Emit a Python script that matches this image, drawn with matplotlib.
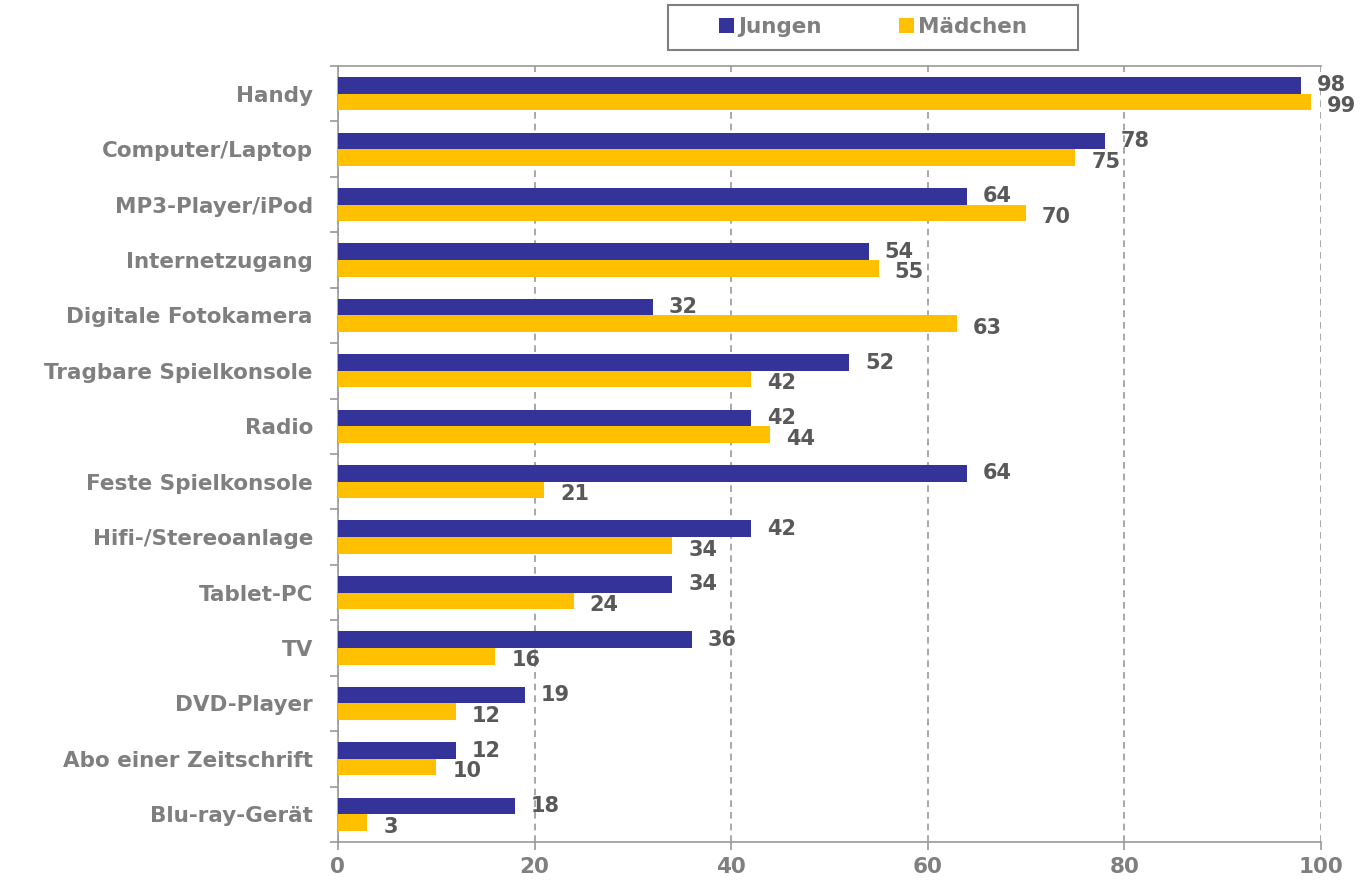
import numpy as np
import matplotlib.pyplot as plt
from matplotlib.ticker import FixedLocator
from matplotlib.patches import Rectangle

# Daten
kategorien = ["Handy", "Computer/Laptop", "MP3-Player/iPod", "Internetzugang",
              "Digitale Fotokamera", "Tragbare Spielkonsole", "Radio",
              "Feste Spielkonsole", "Hifi-/Stereoanlage", "Tablet-PC", "TV",
              "DVD-Player", "Abo einer Zeitschrift", "Blu-ray-Gerät"]
jungen = [98, 78, 64, 54, 32, 52, 42, 64, 42, 34, 36, 19, 12, 18]
maedchen = [99, 75, 70, 55, 63, 42, 44, 21, 34, 24, 16, 12, 10, 3]
x_ticks = [0, 20, 40, 60, 80, 100]

blau = '#333399'
gelb = '#FFC000'
grau = '#7F7F7F'
dunkelgrau = '#595959'

fig = plt.figure(figsize=(13.61, 8.86), dpi=100)
ax = fig.add_axes([0.2483, 0.0497, 0.7223, 0.8758])

y = np.arange(len(kategorien))
h = 0.3
ax.barh(y - h / 2, jungen, height=h, color=blau, label='Jungen', zorder=3)
ax.barh(y + h / 2, maedchen, height=h, color=gelb, label='Mädchen', zorder=3)

# Werte beschriften
for i in range(len(kategorien)):
    ax.annotate(str(jungen[i]), (jungen[i], y[i] - h / 2), xytext=(11.5, 0),
                textcoords='offset points', va='center', ha='left',
                fontsize=15, fontweight='bold', color=dunkelgrau, zorder=4)
    ax.annotate(str(maedchen[i]), (maedchen[i], y[i] + h / 2), xytext=(11.5, -3),
                textcoords='offset points', va='center', ha='left',
                fontsize=15, fontweight='bold', color=dunkelgrau, zorder=4)

ax.set_xlim(0, 100)
ax.set_ylim(len(kategorien) - 0.5, -0.5)

ax.set_xticks(x_ticks)
ax.set_xticklabels([str(t) for t in x_ticks], fontsize=15.5, fontweight='bold', color=grau)
ax.set_yticks(y)
ax.set_yticklabels(kategorien, fontsize=15.5, fontweight='bold', color=grau)
ax.yaxis.set_minor_locator(FixedLocator(np.arange(-0.5, len(kategorien), 1.0)))
ax.tick_params(axis='y', which='major', length=0, pad=18)
ax.tick_params(axis='y', which='minor', length=6, width=1.2, color='#999999')
ax.tick_params(axis='x', length=6, width=1.2, color='#999999', pad=5)

ax.xaxis.grid(True, linestyle=(0, (4, 3)), color='#999999', linewidth=1.2, zorder=0)
ax.set_axisbelow(True)

for s in ['left', 'bottom', 'top']:
    ax.spines[s].set_color('#999999')
    ax.spines[s].set_linewidth(1.2)
ax.spines['right'].set_visible(False)

# Legende ohne eigenen Rahmen, Rahmen separat
leg_box = (0.4908, 0.9436, 0.3012, 0.0508)
leg = fig.legend(loc='center', bbox_to_anchor=leg_box,
                 ncol=2, frameon=False, columnspacing=3.6,
                 handlelength=0.7, handleheight=0.7, handletextpad=0.2,
                 borderaxespad=0, prop={'size': 15.5, 'weight': 'bold'})
for t in leg.get_texts():
    t.set_color(grau)
fig.patches.append(Rectangle(leg_box[:2], leg_box[2], leg_box[3], transform=fig.transFigure,
                             fill=False, edgecolor='#808080', linewidth=1.5))

fig.savefig('out.png', dpi=100)
